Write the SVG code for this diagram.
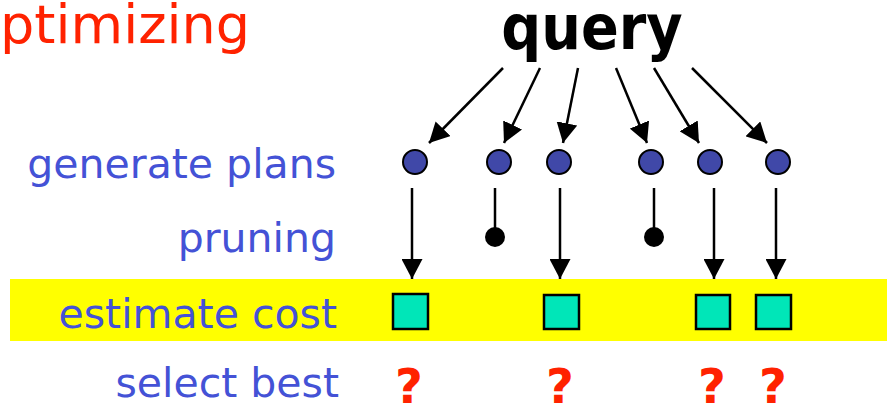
<svg xmlns="http://www.w3.org/2000/svg" width="887" height="408" viewBox="0 0 887 408">
<style>
.lbl{font-family:"DejaVu Sans","Verdana",sans-serif;font-size:41px;fill:#4452D6;text-anchor:end}
.q{font-family:"DejaVu Sans","Verdana",sans-serif;font-weight:bold;font-size:48px;fill:#FF2200;text-anchor:middle}
.plan{fill:#4048A8;stroke:#000;stroke-width:2}
.cost{fill:#00E6B8;stroke:#000;stroke-width:2.5}
.edge{stroke:#000;stroke-width:2.5;fill:none}
.prune{fill:#000}
</style>
<defs>
<marker id="ah" markerUnits="userSpaceOnUse" viewBox="0 0 20 21" markerWidth="20" markerHeight="21" refX="20" refY="10.5" orient="auto">
<path d="M0,0 L20,10.5 L0,21 z" fill="#000"/>
</marker>
</defs>
<rect id="band" x="10" y="279" width="877" height="62" fill="#FFFF00"/>
<text x="250" y="43" style="font-family:'DejaVu Sans','Verdana',sans-serif;font-size:54px;fill:#FF2200;text-anchor:end">ptimizing</text>
<g id="query"><text x="592" y="49" style="font-family:'DejaVu Sans Condensed','DejaVu Sans',sans-serif;font-weight:bold;font-size:62px;font-stretch:condensed;fill:#000;text-anchor:middle">query</text></g>
<g id="labels">
<text class="lbl" x="336" y="178">generate plans</text>
<text class="lbl" x="336" y="252">pruning</text>
<text class="lbl" x="337" y="328">estimate cost</text>
<text class="lbl" x="339" y="397">select best</text>
</g>
<g id="connectors">
<line class="edge" x1="503" y1="68" x2="429" y2="143" marker-end="url(#ah)"/>
<line class="edge" x1="540" y1="68" x2="504" y2="143" marker-end="url(#ah)"/>
<line class="edge" x1="578" y1="68" x2="563" y2="143" marker-end="url(#ah)"/>
<line class="edge" x1="616" y1="68" x2="647" y2="143" marker-end="url(#ah)"/>
<line class="edge" x1="654" y1="68" x2="699" y2="143" marker-end="url(#ah)"/>
<line class="edge" x1="692" y1="68" x2="767" y2="143" marker-end="url(#ah)"/>
<line class="edge" x1="412" y1="188" x2="412" y2="279" marker-end="url(#ah)"/>
<line class="edge" x1="560" y1="188" x2="560" y2="279" marker-end="url(#ah)"/>
<line class="edge" x1="714" y1="188" x2="714" y2="279" marker-end="url(#ah)"/>
<line class="edge" x1="776" y1="188" x2="776" y2="279" marker-end="url(#ah)"/>
<line class="edge" x1="495" y1="188" x2="495" y2="236"/>
<line class="edge" x1="654" y1="188" x2="654" y2="236"/>
</g>
<g id="plans">
<circle class="plan" cx="415" cy="162" r="12"/>
<circle class="plan" cx="499" cy="162" r="12"/>
<circle class="plan" cx="559" cy="162" r="12"/>
<circle class="plan" cx="651" cy="162" r="12"/>
<circle class="plan" cx="710" cy="162" r="12"/>
<circle class="plan" cx="778" cy="162" r="12"/>
</g>
<g id="pruned">
<circle class="prune" cx="495" cy="237" r="10"/>
<circle class="prune" cx="654" cy="237" r="10"/>
</g>
<g id="costs">
<rect class="cost" x="393" y="294" width="35" height="35"/>
<rect class="cost" x="544" y="295" width="35" height="34"/>
<rect class="cost" x="696" y="295" width="34" height="34"/>
<rect class="cost" x="756" y="295" width="35" height="34"/>
</g>
<g id="best">
<text class="q" x="409" y="403">?</text>
<text class="q" x="560" y="403">?</text>
<text class="q" x="712" y="403">?</text>
<text class="q" x="773" y="403">?</text>
</g>
</svg>
